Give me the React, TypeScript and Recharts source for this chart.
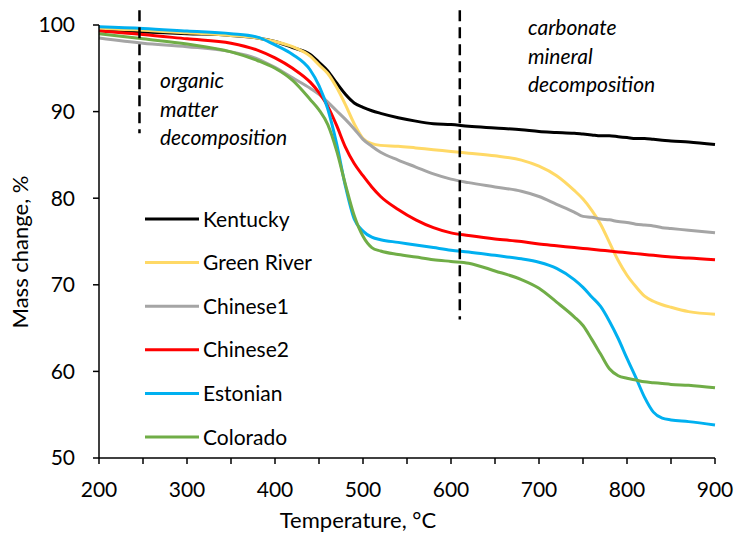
import React from 'react';
import { LineChart, Line, XAxis, YAxis, ReferenceLine } from 'recharts';

// Temperature grid, °C
const temps = [
  200, 250, 300, 350, 380, 400, 420, 440, 450, 460, 470, 480, 490, 500, 510, 520, 540, 560, 580, 600,
  620, 650, 680, 700, 720, 740, 750, 760, 770, 780, 790, 800, 810, 820, 830, 840, 850, 870, 900,
];

// Mass change, %
const kentucky = [
  99.4, 99.2, 99.0, 98.8, 98.5, 98.1, 97.4, 96.6, 95.7, 94.7, 93.3, 92.0, 91.0, 90.5, 90.1, 89.8, 89.3, 88.9, 88.6, 88.5,
  88.3, 88.1, 87.9, 87.7, 87.6, 87.5, 87.4, 87.3, 87.2, 87.2, 87.1, 87.0, 86.9, 86.9, 86.8, 86.7, 86.6, 86.5, 86.2,
];
const greenRiver = [
  99.6, 99.4, 99.1, 98.8, 98.5, 98.1, 97.5, 96.4, 95.4, 94.4, 92.8, 90.8, 88.6, 86.9, 86.3, 86.1, 86.0, 85.8, 85.6, 85.4,
  85.2, 84.9, 84.4, 83.7, 82.6, 80.9, 79.9, 78.6, 77.0, 74.9, 72.8, 71.1, 69.8, 68.7, 68.1, 67.7, 67.4, 66.9, 66.6,
];
const chinese1 = [
  98.5, 97.9, 97.5, 96.9, 96.1, 95.1, 93.9, 92.7, 92.0, 91.1, 90.1, 89.1, 88.0, 86.8, 86.0, 85.3, 84.4, 83.6, 82.8, 82.2,
  81.8, 81.3, 80.8, 80.2, 79.3, 78.4, 77.9, 77.8, 77.6, 77.5, 77.3, 77.2, 77.0, 76.9, 76.8, 76.6, 76.5, 76.3, 76.0,
];
const chinese2 = [
  99.3, 98.9, 98.4, 97.9, 97.1, 96.2, 95.0, 93.4, 92.2, 90.6, 88.4, 85.9, 84.0, 82.6, 81.3, 80.2, 78.7, 77.5, 76.6, 76.0,
  75.7, 75.3, 75.0, 74.7, 74.5, 74.3, 74.2, 74.1, 74.0, 73.9, 73.8, 73.7, 73.6, 73.5, 73.4, 73.3, 73.2, 73.1, 72.9,
];
const estonian = [
  99.8, 99.6, 99.3, 99.0, 98.6, 97.7, 96.6, 94.8, 93.0, 90.3, 86.3, 81.4, 77.6, 76.2, 75.5, 75.2, 74.9, 74.6, 74.3, 74.0,
  73.8, 73.4, 73.0, 72.6, 71.9, 70.6, 69.7, 68.6, 67.5, 65.8, 63.8, 61.5, 59.3, 57.0, 55.3, 54.6, 54.4, 54.2, 53.8,
];
const colorado = [
  99.0, 98.4, 97.8, 96.9, 95.9, 95.0, 93.6, 91.4, 90.2, 88.5, 85.5, 81.6, 78.0, 75.6, 74.3, 73.9, 73.5, 73.2, 72.9, 72.7,
  72.5, 71.6, 70.6, 69.6, 68.0, 66.3, 65.3, 63.7, 62.0, 60.3, 59.5, 59.2, 59.0, 58.8, 58.7, 58.6, 58.5, 58.4, 58.1,
];

const seriesNames = ['Kentucky', 'Green River', 'Chinese1', 'Chinese2', 'Estonian', 'Colorado'];
const seriesColors = ['#000000', '#FFD966', '#A5A5A5', '#FF0000', '#00B0F0', '#70AD47'];
const seriesValues = [kentucky, greenRiver, chinese1, chinese2, estonian, colorado];

const xTicks = [200, 250, 300, 350, 400, 450, 500, 550, 600, 650, 700, 750, 800, 850, 900];
const yTicks = [50, 60, 70, 80, 90, 100];

// boundaries between decomposition stages
const organicBoundary = 246;
const carbonateBoundary = 610;

const data = temps.map((t, i) => {
  const row: Record<string, number> = { t };
  seriesNames.forEach((name, k) => {
    row[name] = seriesValues[k][i];
  });
  return row;
});

const FONT = 'Lato, "Open Sans", sans-serif';
const W = 734;
const H = 534;

const App: React.FC = () => {
  return (
    <div style={{ position: 'absolute', left: 0, top: 0, width: W, height: H, background: '#fff' }}>
      <LineChart width={W} height={H} data={data} margin={{ top: 25, right: 19, left: 0, bottom: 0 }}>
        <XAxis
          type="number"
          dataKey="t"
          domain={[200, 900]}
          ticks={xTicks}
          interval={0}
          height={76}
          tickFormatter={(v: number) => (v % 100 === 0 ? String(v) : '')}
          axisLine={{ stroke: '#000', strokeWidth: 1.5 }}
          tickLine={{ stroke: '#000', strokeWidth: 1.5 }}
          tickSize={6}
          tickMargin={18}
          tick={{ fill: '#000', fontSize: 21, fontFamily: FONT }}
        />
        <YAxis
          type="number"
          domain={[50, 100]}
          ticks={yTicks}
          interval={0}
          width={99}
          axisLine={{ stroke: '#000', strokeWidth: 1.5 }}
          tickLine={{ stroke: '#000', strokeWidth: 1.5 }}
          tickSize={6}
          tickMargin={18}
          tick={{ fill: '#000', fontSize: 21, fontFamily: FONT }}
        />
        {seriesNames.map((name, k) => (
          <Line
            key={name}
            type="monotone"
            dataKey={name}
            stroke={seriesColors[k]}
            strokeWidth={3}
            dot={false}
            isAnimationActive={false}
          />
        ))}
        <ReferenceLine
          segment={[{ x: organicBoundary, y: 101.7 }, { x: organicBoundary, y: 87.5 }]}
          stroke="#000"
          strokeWidth={2.5}
          strokeDasharray="11 6"
          ifOverflow="visible"
        />
        <ReferenceLine
          segment={[{ x: carbonateBoundary, y: 101.7 }, { x: carbonateBoundary, y: 66 }]}
          stroke="#000"
          strokeWidth={2.5}
          strokeDasharray="11 6"
          ifOverflow="visible"
        />
      </LineChart>
      <svg
        width={W}
        height={H}
        style={{ position: 'absolute', left: 0, top: 0, pointerEvents: 'none' }}
        fontFamily={FONT}
        fontSize={21}
      >
        {/* axis titles */}
        <text x={358} y={528} textAnchor="middle" fill="#000" fontSize={22}>Temperature, °C</text>
        <text transform="translate(28,252) rotate(-90)" textAnchor="middle" fill="#000" fontSize={22}>Mass change, %</text>

        {/* stage annotations */}
        <text fontStyle="italic" fill="#000">
          <tspan x={160} y={88}>organic</tspan>
          <tspan x={160} y={116.5}>matter</tspan>
          <tspan x={160} y={145}>decomposition</tspan>
        </text>
        <text fontStyle="italic" fill="#000">
          <tspan x={528} y={35}>carbonate</tspan>
          <tspan x={528} y={63.5}>mineral</tspan>
          <tspan x={528} y={92}>decomposition</tspan>
        </text>

        {/* legend */}
        {seriesNames.map((name, k) => {
          const cy = 219 + k * 43.6;
          return (
            <g key={name}>
              <line x1={145} x2={199} y1={cy} y2={cy} stroke={seriesColors[k]} strokeWidth={3} />
              <text x={203} y={cy + 7.5} fill="#000">{name}</text>
            </g>
          );
        })}
      </svg>
    </div>
  );
};

export default App;
